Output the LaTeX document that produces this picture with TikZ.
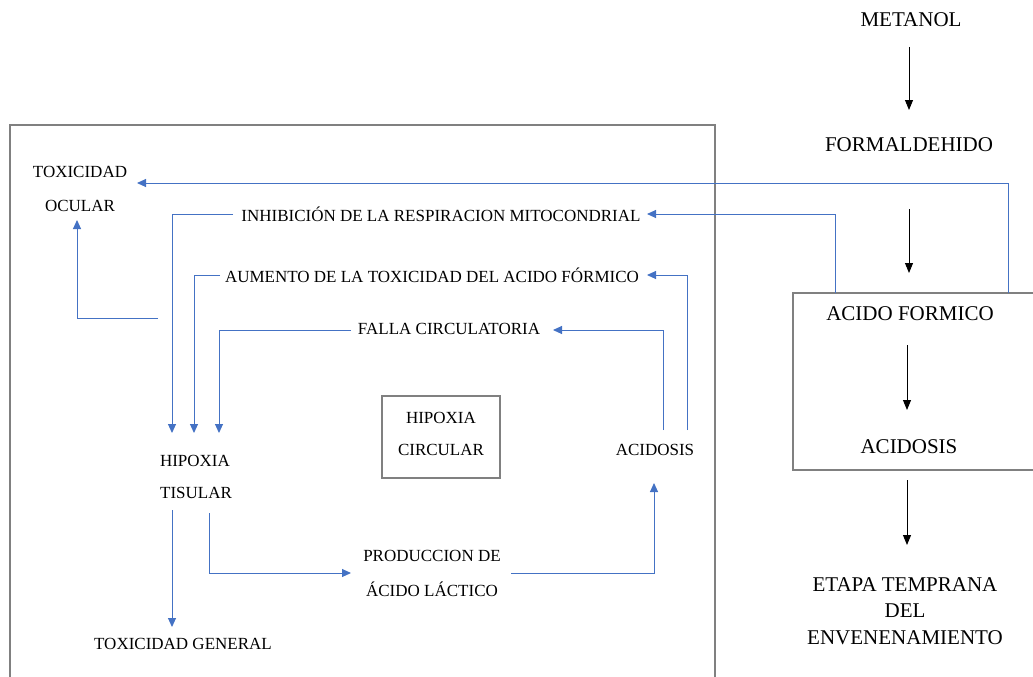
\documentclass[tikz,border=0pt]{standalone}
\usepackage{fontspec}
\setmainfont{Liberation Serif}
\usetikzlibrary{arrows.meta}
\definecolor{lnblue}{HTML}{4472C4}
\definecolor{boxgray}{HTML}{808080}
\begin{document}
\begin{tikzpicture}[x=1pt,y=-1pt,
  small/.style={inner sep=0pt, font=\fontsize{17}{20}\selectfont},
  big/.style={inner sep=0pt, font=\fontsize{21}{26.5}\selectfont, align=center},
  blu/.style={draw=lnblue, line width=1pt, -{Triangle[length=9pt,width=8pt]}},
  blk/.style={draw=black, line width=0.9pt, -{Triangle[length=10pt,width=8pt]}},
  frame/.style={draw=boxgray, line width=1.5pt}]
\useasboundingbox (0,0) rectangle (1033,677);

% frames
\draw[frame] (10,690) -- (10,125) -- (715,125) -- (715,690);
\draw[frame] (1045,293) -- (793,293) -- (793,470) -- (1045,470);

% right column
\node[big] (met) at (911,20) {METANOL};
\node[big] (form) at (909,145) {FORMALDEHIDO};
\node[big] (acf) at (910,314) {ACIDO FORMICO};
\node[big] (acd) at (909,447) {ACIDOSIS};
\node[big] (etapa) at (905,611) {ETAPA TEMPRANA\\DEL\\ENVENENAMIENTO};

\draw[blk] (909,47) -- (909,110);
\draw[blk] (909,209) -- (909,273);
\draw[blk] (907,345) -- (907,410);
\draw[blk] (907,480) -- (907,545);

% inner texts
\node[small] (tox1) at (80,172) {TOXICIDAD};
\node[small] (tox2) at (80,206) {OCULAR};
\node[small] (inh) at (441,214) {INHIBICIÓN DE LA RESPIRACION MITOCONDRIAL};
\node[small] (aum) at (432,275) {AUMENTO DE LA TOXICIDAD DEL ACIDO FÓRMICO};
\node[small] (falla) at (449,329) {FALLA CIRCULATORIA};
\node[draw=boxgray, line width=1.5pt, minimum width=118pt, minimum height=82pt] (hc) at (441,437) {};
\node[small] at (441,418) {HIPOXIA};
\node[small] at (441,450) {CIRCULAR};
\node[small] (acin) at (655,450) {ACIDOSIS};
\node[small] (hip1) at (195,461) {HIPOXIA};
\node[small] (hip2) at (196,493) {TISULAR};
\node[small] (prod1) at (432,556) {PRODUCCION DE};
\node[small] (prod2) at (432,589) {ÁCIDO LÁCTICO};
\node[small] (tgen) at (183,644) {TOXICIDAD GENERAL};

% blue connectors
\coordinate (s1) at (1008,293);
\coordinate (s2) at (835,293);
\draw[blu] (s1) |- (137,183);
\draw[blu] (s2) |- (647,214);
\draw[blu] (233,214) -| (172,433);
\draw[blu] (220,275) -| (194,433);
\draw[blu] (351,330) -| (219,433);
\draw[blu] (158,318) -| (77,220);
\draw[blu] (687,430) |- (647,275);
\draw[blu] (663,430) |- (553,330);
\draw[blu] (172,510) -- (172,627);
\draw[blu] (209,513) |- (351,573);
\draw[blu] (511,573) -| (654,483);
\end{tikzpicture}
\end{document}
